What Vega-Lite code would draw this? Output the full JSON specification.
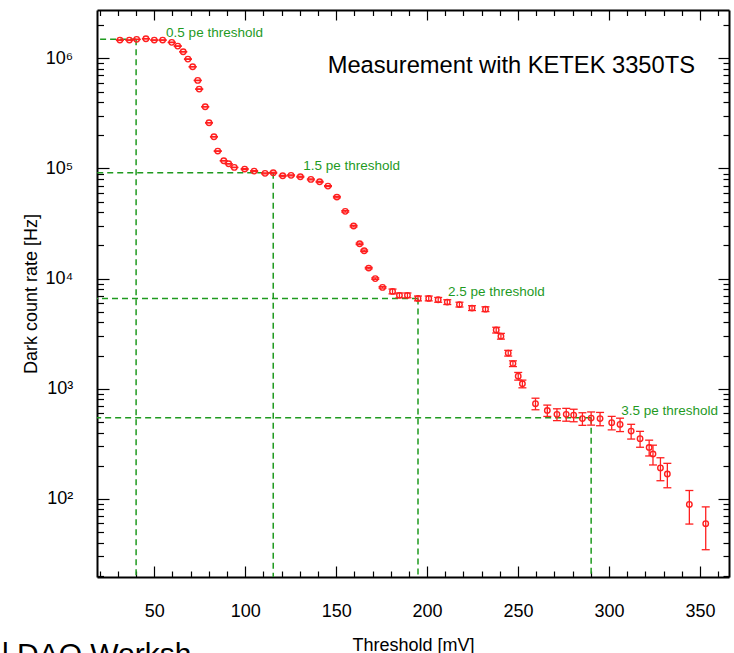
{
  "$schema": "https://vega.github.io/schema/vega-lite/v6.json",
  "width": 632,
  "height": 567,
  "autosize": {"type": "none"},
  "padding": {"left": 97, "top": 10, "right": 5, "bottom": 76},
  "title": {
    "text": "l DAQ Worksh",
    "orient": "bottom",
    "anchor": "start",
    "frame": "group",
    "offset": 0,
    "fontSize": 30,
    "fontWeight": "normal",
    "font": "Liberation Sans",
    "color": "black",
    "baseline": "top",
    "dx": -95,
    "dy": -14.5
  },
  "config": {
    "font": "Liberation Sans",
    "view": {"stroke": null},
    "axis": {
      "grid": false,
      "domainColor": "black",
      "domainWidth": 2,
      "tickColor": "black",
      "tickWidth": 1.2,
      "labelFont": "Liberation Sans",
      "labelFontSize": 18,
      "labelColor": "black",
      "labelFlush": false,
      "labelOverlap": false,
      "titleFont": "Liberation Sans",
      "titleFontSize": 18,
      "titleFontWeight": "normal",
      "titleColor": "black"
    }
  },
  "datasets": {
    "points": [
      {"mv": 31.1, "rate": 1466000, "lo": 1460000, "hi": 1472000},
      {"mv": 36.3, "rate": 1466000, "lo": 1460000, "hi": 1472000},
      {"mv": 40.3, "rate": 1488000, "lo": 1482000, "hi": 1494000},
      {"mv": 45.4, "rate": 1507000, "lo": 1501000, "hi": 1513000},
      {"mv": 50.0, "rate": 1466000, "lo": 1460000, "hi": 1472000},
      {"mv": 54.6, "rate": 1466000, "lo": 1460000, "hi": 1472000},
      {"mv": 59.6, "rate": 1398000, "lo": 1392000, "hi": 1404000},
      {"mv": 62.9, "rate": 1293000, "lo": 1288000, "hi": 1298000},
      {"mv": 65.9, "rate": 1148000, "lo": 1143000, "hi": 1153000},
      {"mv": 68.5, "rate": 985000, "lo": 981000, "hi": 989000},
      {"mv": 71.1, "rate": 839000, "lo": 836000, "hi": 842000},
      {"mv": 73.9, "rate": 631000, "lo": 628000, "hi": 634000},
      {"mv": 74.7, "rate": 526000, "lo": 524000, "hi": 528000},
      {"mv": 78.0, "rate": 363500, "lo": 362000, "hi": 365000},
      {"mv": 80.1, "rate": 260000, "lo": 259000, "hi": 261000},
      {"mv": 82.8, "rate": 194100, "lo": 193300, "hi": 194900},
      {"mv": 84.9, "rate": 143900, "lo": 143300, "hi": 144500},
      {"mv": 88.2, "rate": 117500, "lo": 117000, "hi": 118000},
      {"mv": 90.9, "rate": 110300, "lo": 109860, "hi": 110740},
      {"mv": 94.0, "rate": 102300, "lo": 101900, "hi": 102700},
      {"mv": 99.7, "rate": 98800, "lo": 97800, "hi": 99800},
      {"mv": 104.9, "rate": 94700, "lo": 93750, "hi": 95650},
      {"mv": 110.9, "rate": 90300, "lo": 89400, "hi": 91200},
      {"mv": 115.4, "rate": 91400, "lo": 90490, "hi": 92310},
      {"mv": 120.6, "rate": 85800, "lo": 84940, "hi": 86660},
      {"mv": 125.2, "rate": 86600, "lo": 85730, "hi": 87470},
      {"mv": 130.3, "rate": 84100, "lo": 83260, "hi": 84940},
      {"mv": 136.1, "rate": 79600, "lo": 78800, "hi": 80400},
      {"mv": 140.9, "rate": 75700, "lo": 74940, "hi": 76460},
      {"mv": 145.5, "rate": 69200, "lo": 68510, "hi": 69890},
      {"mv": 150.4, "rate": 55000, "lo": 54180, "hi": 55830},
      {"mv": 155.0, "rate": 40800, "lo": 40190, "hi": 41410},
      {"mv": 159.6, "rate": 30000, "lo": 29550, "hi": 30450},
      {"mv": 162.9, "rate": 20700, "lo": 20390, "hi": 21010},
      {"mv": 165.4, "rate": 17890, "lo": 17620, "hi": 18160},
      {"mv": 167.9, "rate": 12460, "lo": 12270, "hi": 12650},
      {"mv": 171.5, "rate": 10000, "lo": 9850, "hi": 10150},
      {"mv": 175.5, "rate": 8320, "lo": 8195, "hi": 8445},
      {"mv": 181.0, "rate": 7650, "lo": 7268, "hi": 8033},
      {"mv": 184.8, "rate": 7050, "lo": 6698, "hi": 7403},
      {"mv": 189.2, "rate": 7050, "lo": 6698, "hi": 7403},
      {"mv": 195.0, "rate": 6610, "lo": 6280, "hi": 6941},
      {"mv": 200.9, "rate": 6610, "lo": 6280, "hi": 6941},
      {"mv": 206.1, "rate": 6420, "lo": 6099, "hi": 6741},
      {"mv": 211.1, "rate": 6120, "lo": 5814, "hi": 6426},
      {"mv": 217.8, "rate": 5810, "lo": 5520, "hi": 6101},
      {"mv": 224.7, "rate": 5400, "lo": 5130, "hi": 5670},
      {"mv": 232.1, "rate": 5280, "lo": 5016, "hi": 5544},
      {"mv": 238.0, "rate": 3410, "lo": 3205, "hi": 3615},
      {"mv": 240.6, "rate": 3000, "lo": 2820, "hi": 3180},
      {"mv": 244.6, "rate": 2105, "lo": 1979, "hi": 2231},
      {"mv": 247.2, "rate": 1690, "lo": 1589, "hi": 1791},
      {"mv": 250.1, "rate": 1301, "lo": 1197, "hi": 1405},
      {"mv": 252.4, "rate": 1108, "lo": 1019, "hi": 1197},
      {"mv": 259.6, "rate": 732, "lo": 644, "hi": 820},
      {"mv": 266.1, "rate": 635, "lo": 560, "hi": 710},
      {"mv": 271.4, "rate": 585, "lo": 513, "hi": 657},
      {"mv": 276.5, "rate": 585, "lo": 507, "hi": 663},
      {"mv": 280.6, "rate": 576, "lo": 501, "hi": 651},
      {"mv": 285.4, "rate": 535, "lo": 465, "hi": 605},
      {"mv": 290.2, "rate": 541, "lo": 467, "hi": 615},
      {"mv": 295.1, "rate": 535, "lo": 461, "hi": 609},
      {"mv": 301.5, "rate": 492, "lo": 423, "hi": 561},
      {"mv": 306.1, "rate": 474, "lo": 408, "hi": 540},
      {"mv": 312.2, "rate": 412, "lo": 349, "hi": 475},
      {"mv": 317.1, "rate": 352, "lo": 294, "hi": 410},
      {"mv": 322.1, "rate": 293, "lo": 245, "hi": 341},
      {"mv": 324.2, "rate": 255, "lo": 203, "hi": 307},
      {"mv": 328.3, "rate": 191, "lo": 146, "hi": 236},
      {"mv": 332.1, "rate": 168, "lo": 126, "hi": 210},
      {"mv": 344.2, "rate": 89, "lo": 59, "hi": 119},
      {"mv": 353.2, "rate": 59.5, "lo": 34.5, "hi": 84.5}
    ],
    "thresholds": [
      {"label": "0.5 pe threshold", "mv": 40, "rate": 1488000},
      {"label": "1.5 pe threshold", "mv": 115.4, "rate": 91400},
      {"label": "2.5 pe threshold", "mv": 195, "rate": 6610},
      {"label": "3.5 pe threshold", "mv": 290.2, "rate": 544}
    ]
  },
  "resolve": {"axis": {"x": "independent", "y": "independent"}},
  "layer": [
    {
      "data": {"name": "thresholds"},
      "mark": {"type": "rule", "color": "#1f9a1f", "strokeWidth": 1.5, "strokeDash": [6, 4]},
      "encoding": {
        "x": {"field": "mv", "type": "quantitative", "axis": null},
        "x2": {"datum": 18.5},
        "y": {"field": "rate", "type": "quantitative", "axis": null}
      }
    },
    {
      "data": {"name": "thresholds"},
      "mark": {"type": "rule", "color": "#1f9a1f", "strokeWidth": 1.5, "strokeDash": [6, 4]},
      "encoding": {
        "x": {
          "field": "mv", "type": "quantitative",
          "scale": {"domain": [18.5, 366], "nice": false, "zero": false},
          "axis": {
            "orient": "top", "title": null, "labels": false,
            "values": [20,30,40,50,60,70,80,90,100,110,120,130,140,150,160,170,180,190,200,210,220,230,240,250,260,270,280,290,300,310,320,330,340,350,360],
            "tickSize": {"condition": {"test": "datum.value % 50 === 0", "value": -10}, "value": -5.5}
          }
        },
        "y": {
          "field": "rate", "type": "quantitative",
          "scale": {"type": "log", "domain": [19.5, 2750000], "nice": false},
          "axis": {
            "orient": "right", "title": null, "labels": false,
            "values": [20,30,40,50,60,70,80,90,100,200,300,400,500,600,700,800,900,1000,2000,3000,4000,5000,6000,7000,8000,9000,10000,20000,30000,40000,50000,60000,70000,80000,90000,100000,200000,300000,400000,500000,600000,700000,800000,900000,1000000,2000000],
            "tickSize": {"condition": {"test": "indexof([100,1000,10000,100000,1000000], datum.value) >= 0", "value": -11}, "value": -6}
          }
        },
        "y2": {"datum": 19.5}
      }
    },
    {
      "data": {"name": "thresholds"},
      "mark": {"type": "text", "align": "left", "baseline": "alphabetic", "dx": 30, "dy": -2.5, "fontSize": 13.5, "font": "Liberation Sans", "color": "#1f9a1f"},
      "encoding": {
        "x": {"field": "mv", "type": "quantitative", "axis": null},
        "y": {"field": "rate", "type": "quantitative", "axis": null},
        "text": {"field": "label"}
      }
    },
    {
      "data": {"name": "points"},
      "mark": {"type": "rule", "color": "#ff1f1f", "strokeWidth": 1.3},
      "encoding": {
        "x": {"field": "mv", "type": "quantitative", "axis": null},
        "y": {"field": "lo", "type": "quantitative", "axis": null},
        "y2": {"field": "hi"}
      }
    },
    {
      "data": {"name": "points"},
      "mark": {"type": "tick", "orient": "horizontal", "color": "#ff1f1f", "size": 8, "thickness": 1.3, "opacity": 1},
      "encoding": {
        "x": {"field": "mv", "type": "quantitative", "axis": null},
        "y": {"field": "lo", "type": "quantitative", "axis": null}
      }
    },
    {
      "data": {"name": "points"},
      "mark": {"type": "tick", "orient": "horizontal", "color": "#ff1f1f", "size": 8, "thickness": 1.3, "opacity": 1},
      "encoding": {
        "x": {"field": "mv", "type": "quantitative", "axis": null},
        "y": {"field": "hi", "type": "quantitative", "axis": null}
      }
    },
    {
      "data": {"name": "points"},
      "mark": {"type": "point", "shape": "circle", "filled": false, "size": 30, "strokeWidth": 1.4, "color": "#ff1f1f", "opacity": 1},
      "encoding": {
        "x": {
          "field": "mv", "type": "quantitative",
          "scale": {"domain": [18.5, 366], "nice": false, "zero": false},
          "axis": {
            "orient": "bottom",
            "title": "Threshold [mV]",
            "titleBaseline": "alphabetic",
            "titleY": 73,
            "values": [20,30,40,50,60,70,80,90,100,110,120,130,140,150,160,170,180,190,200,210,220,230,240,250,260,270,280,290,300,310,320,330,340,350,360],
            "labelExpr": "datum.value % 50 === 0 ? datum.label : ''",
            "tickSize": {"condition": {"test": "datum.value % 50 === 0", "value": -11}, "value": -6},
            "labelPadding": 36.7
          }
        },
        "y": {
          "field": "rate", "type": "quantitative",
          "scale": {"type": "log", "domain": [19.5, 2750000], "nice": false},
          "axis": {
            "orient": "left",
            "title": "Dark count rate [Hz]",
            "titleAngle": -90,
            "titleAlign": "center",
            "titleBaseline": "alphabetic",
            "titleX": -60.6,
            "titleY": 283.5,
            "values": [20,30,40,50,60,70,80,90,100,200,300,400,500,600,700,800,900,1000,2000,3000,4000,5000,6000,7000,8000,9000,10000,20000,30000,40000,50000,60000,70000,80000,90000,100000,200000,300000,400000,500000,600000,700000,800000,900000,1000000,2000000],
            "labelExpr": "datum.value == 100 ? '10²' : datum.value == 1000 ? '10³' : datum.value == 10000 ? '10⁴' : datum.value == 100000 ? '10⁵' : datum.value == 1000000 ? '10⁶' : ''",
            "tickSize": {"condition": {"test": "indexof([100,1000,10000,100000,1000000], datum.value) >= 0", "value": -12}, "value": -6.5},
            "labelPadding": 36.3
          }
        }
      }
    },
    {
      "data": {"values": [{"note": "Measurement with KETEK 3350TS"}]},
      "mark": {"type": "text", "align": "right", "baseline": "alphabetic", "fontSize": 23.7, "font": "Liberation Sans", "color": "black"},
      "encoding": {
        "x": {"datum": 347.3, "type": "quantitative", "axis": null},
        "y": {"datum": 740000, "type": "quantitative", "axis": null},
        "text": {"field": "note"}
      }
    }
  ]
}
